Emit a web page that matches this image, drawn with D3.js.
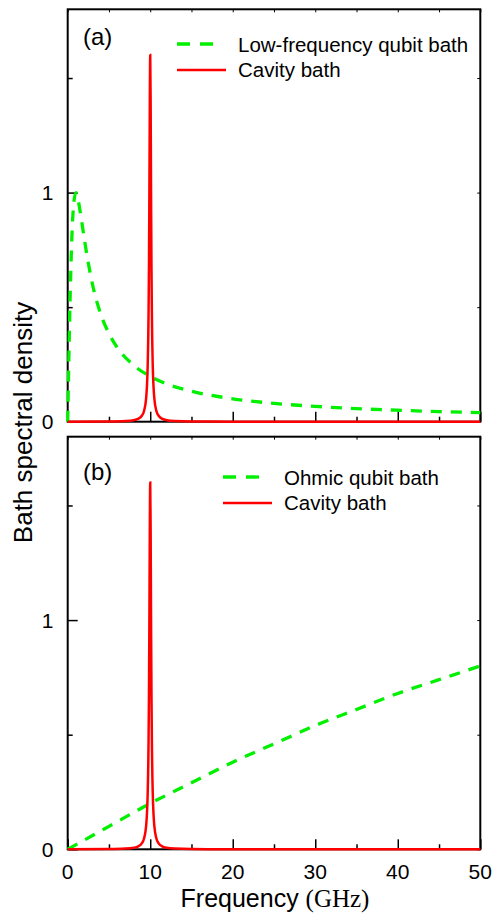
<!DOCTYPE html>
<html>
<head>
<meta charset="utf-8">
<script src="https://cdn.jsdelivr.net/npm/d3@7"></script>
<style>
  body { margin: 0; background: #fff; }
  text { font-family: "Liberation Sans", Arial, sans-serif; fill: #000; }
</style>
</head>
<body>
<svg id="chart" width="493" height="913"></svg>
<script>
// values
const lowFreqX = [0, 0.1, 0.25, 0.5, 0.75, 1, 1.5, 2, 3, 4, 5, 6, 8, 10, 12, 15, 20, 25, 30, 35, 40, 45, 50];
const lowFreqY = [0, 0.2, 0.47, 0.8, 0.96, 1.0, 0.92, 0.8, 0.6, 0.47, 0.385, 0.324, 0.246, 0.198, 0.165, 0.133, 0.1, 0.08, 0.067, 0.057, 0.05, 0.044, 0.04];

const ohmicX = [0, 5, 10, 15, 20, 25, 30, 35, 40, 45, 50];
const ohmicY = [0, 0.10, 0.20, 0.29, 0.38, 0.46, 0.54, 0.61, 0.68, 0.74, 0.80];

const cavityX = [0, 5, 7, 8, 8.5, 9, 9.25, 9.5, 9.6, 9.7, 9.8, 9.85, 9.9, 9.95, 10,
  10.05, 10.1, 10.15, 10.2, 10.3, 10.4, 10.5, 10.75, 11, 11.5, 12, 13, 15, 20, 30, 40, 50];
const cavityY = [0, 0.001, 0.003, 0.0067, 0.012, 0.027, 0.047, 0.101, 0.153, 0.253, 0.475, 0.686, 1.005, 1.394, 1.6,
  1.394, 1.005, 0.686, 0.475, 0.253, 0.153, 0.101, 0.047, 0.027, 0.012, 0.0067, 0.003, 0.001, 0.0003, 0, 0, 0];

const xTicks = [0, 10, 20, 30, 40, 50];
const xMinor = [5, 15, 25, 35, 45];
const yTicks = [0, 1];
const yMinor = [0.5, 1.5];

const panels = [
  { tag: "(a)", top: 9.3, bottom: 421.7, green: [lowFreqX, lowFreqY], greenName: "Low-frequency qubit bath",
    tagY: 45, legX: 177, legY: 44, showX: false },
  { tag: "(b)", top: 436.7, bottom: 849.3, green: [ohmicX, ohmicY], greenName: "Ohmic qubit bath",
    tagY: 480, legX: 223, legY: 477, showX: true }
];

const svg = d3.select("#chart");
const left = 67.7, right = 480.3;
const x = d3.scaleLinear().domain([0, 50]).range([left, right]);

panels.forEach((p, i) => {
  const y = d3.scaleLinear().domain([0, 1.8]).range([p.bottom, p.top]);
  const g = svg.append("g");

  // frame
  g.append("rect")
    .attr("x", left).attr("y", p.top)
    .attr("width", right - left).attr("height", p.bottom - p.top)
    .attr("fill", "none").attr("stroke", "#000").attr("stroke-width", 2);

  // bottom x ticks
  g.append("g").attr("transform", `translate(0,${p.bottom})`)
    .call(d3.axisBottom(x).tickValues(xTicks).tickSize(-10).tickFormat(""))
    .call(a => a.select(".domain").remove())
    .selectAll("line").attr("stroke-width", 1.5);
  g.append("g").attr("transform", `translate(0,${p.bottom})`)
    .call(d3.axisBottom(x).tickValues(xMinor).tickSize(-5).tickFormat(""))
    .call(a => a.select(".domain").remove())
    .selectAll("line").attr("stroke-width", 1.5);
  // top x ticks (short)
  g.append("g").attr("transform", `translate(0,${p.top})`)
    .call(d3.axisTop(x).tickValues(xTicks.concat(xMinor)).tickSize(-3).tickFormat(""))
    .call(a => a.select(".domain").remove())
    .selectAll("line").attr("stroke-width", 1);

  // left y ticks
  g.append("g").attr("transform", `translate(${left},0)`)
    .call(d3.axisLeft(y).tickValues(yTicks).tickSize(-10).tickFormat(""))
    .call(a => a.select(".domain").remove())
    .selectAll("line").attr("stroke-width", 1.5);
  g.append("g").attr("transform", `translate(${left},0)`)
    .call(d3.axisLeft(y).tickValues(yMinor).tickSize(-5).tickFormat(""))
    .call(a => a.select(".domain").remove())
    .selectAll("line").attr("stroke-width", 1.5);
  // right y ticks (short)
  g.append("g").attr("transform", `translate(${right},0)`)
    .call(d3.axisRight(y).tickValues(yTicks.concat(yMinor)).tickSize(-3).tickFormat(""))
    .call(a => a.select(".domain").remove())
    .selectAll("line").attr("stroke-width", 1);

  // y tick labels
  g.selectAll(".ylab")
    .data(yTicks)
    .enter()
    .append("text")
    .attr("x", 53.5)
    .attr("y", d => y(d))
    .attr("dy", "0.36em")
    .attr("text-anchor", "end")
    .style("font-size", "21px")
    .text(d => d);

  if (p.showX) {
    g.selectAll(".xlab")
      .data(xTicks)
      .enter()
      .append("text")
      .attr("x", d => x(d))
      .attr("y", 879)
      .attr("text-anchor", "middle")
      .style("font-size", "21px")
      .text(d => d);
  }

  // curves
  const line = d3.line().x(d => x(d[0])).y(d => y(d[1])).curve(d3.curveMonotoneX);
  const greenPts = p.green[0].map((v, k) => [v, p.green[1][k]]);
  const redPts = cavityX.map((v, k) => [v, cavityY[k]]);

  g.append("path")
    .datum(greenPts)
    .attr("d", line)
    .attr("fill", "none")
    .attr("stroke", "#00f000")
    .attr("stroke-width", 3.3)
    .attr("stroke-dasharray", "11,9");

  g.append("path")
    .datum(redPts)
    .attr("d", line)
    .attr("fill", "none")
    .attr("stroke", "#ff0000")
    .attr("stroke-width", 2.5);

  // panel tag
  g.append("text")
    .attr("x", 83)
    .attr("y", p.tagY)
    .style("font-size", "24px")
    .text(p.tag);

  // legend
  g.append("line")
    .attr("x1", p.legX).attr("x2", p.legX + 36)
    .attr("y1", p.legY).attr("y2", p.legY)
    .attr("stroke", "#00f000").attr("stroke-width", 3.3)
    .attr("stroke-dasharray", "13,10");
  g.append("text")
    .attr("x", p.legX + 61).attr("y", p.legY + 7.5)
    .style("font-size", "20.5px")
    .text(p.greenName);
  g.append("line")
    .attr("x1", p.legX).attr("x2", p.legX + 49)
    .attr("y1", p.legY + 26).attr("y2", p.legY + 26)
    .attr("stroke", "#ff0000").attr("stroke-width", 2.5);
  g.append("text")
    .attr("x", p.legX + 61).attr("y", p.legY + 33)
    .style("font-size", "20.5px")
    .text("Cavity bath");
});

// axis titles
svg.append("text")
  .attr("transform", "translate(31.5,422.5) rotate(-90)")
  .attr("text-anchor", "middle")
  .style("font-size", "26px")
  .text("Bath spectral density");

const xt = svg.append("text")
  .attr("x", 275)
  .attr("y", 906.5)
  .attr("text-anchor", "middle")
  .style("font-size", "25px");
xt.append("tspan").text("Frequency ");
xt.append("tspan").style("font-family", "'Liberation Serif', 'Times New Roman', serif").text("(GHz)");
</script>
</body>
</html>
